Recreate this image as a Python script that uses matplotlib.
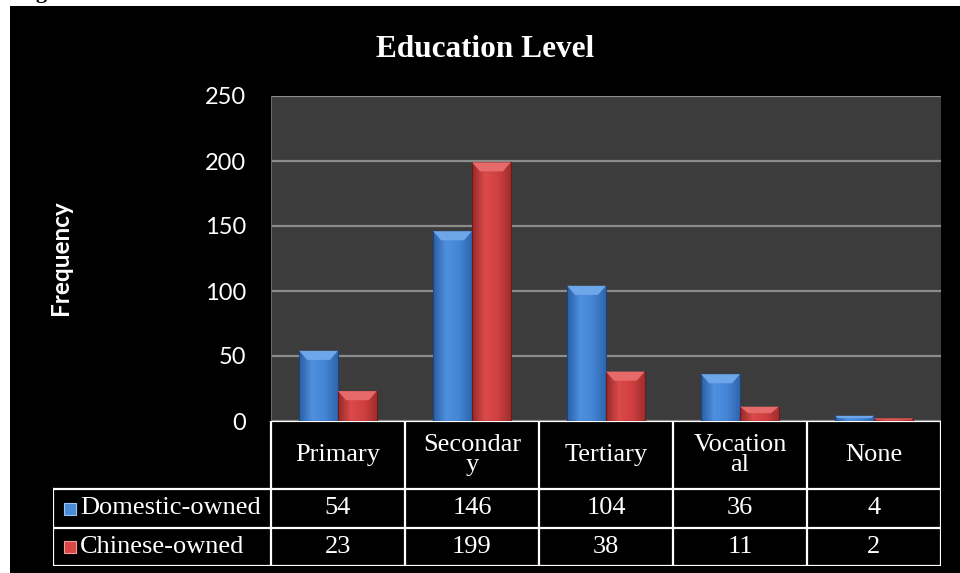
import numpy as np
import matplotlib.pyplot as plt
from matplotlib.patches import Rectangle, Polygon
from matplotlib.colors import LinearSegmentedColormap

# данные
categories = ['Primary', 'Secondary', 'Tertiary', 'Vocational', 'None']
header_labels = ['Primary', 'Secondar\ny', 'Tertiary', 'Vocation\nal', 'None']
domestic = [54, 146, 104, 36, 4]
chinese = [23, 199, 38, 11, 2]
series_names = ['Domestic-owned', 'Chinese-owned']
yticks = [0, 50, 100, 150, 200, 250]

W, H = 960, 573
fig = plt.figure(figsize=(W / 100, H / 100), dpi=100, facecolor='white')

# черная подложка диаграммы
fig.patches.append(Rectangle((10 / W, 0), 1, 1 - 6 / H, transform=fig.transFigure,
                             facecolor='black', edgecolor='none', zorder=-10))
# обрезанная подпись над диаграммой
fig.text(17 / W, 1 + 2 / H, 'Figure', fontsize=16, fontweight='bold',
         family='Liberation Serif', color='black', va='baseline')


def px(x0, y0, x1, y1):
    return [x0 / W, 1 - y1 / H, (x1 - x0) / W, (y1 - y0) / H]


ax = fig.add_axes(px(271, 96, 941, 421))
ax.set_facecolor('#3c3c3c')
ax.set_xlim(-0.5, len(categories) - 0.5)
ax.set_ylim(0, 250)
ax.set_yticks(yticks)
ax.set_yticklabels([str(t) for t in yticks], family='Lato', fontsize=17, color='white')
ax.tick_params(axis='y', length=0, pad=18)
ax.set_xticks([])
ax.grid(axis='y', color='#8c8c8c', linewidth=1.6, zorder=1)
ax.set_axisbelow(True)
for s in ['top', 'right', 'bottom']:
    ax.spines[s].set_visible(False)
ax.spines['left'].set_color('#6a6a6a')

blue = LinearSegmentedColormap.from_list('b', ['#2a5ea6', '#4f90de', '#4585d6', '#2f66ae'])
red = LinearSegmentedColormap.from_list('r', ['#962a2a', '#dc4a4a', '#d04040', '#a02e2e'])

x = np.arange(len(categories))
w = 0.29
grad = np.linspace(0, 1, 64).reshape(1, -1)


def draw_bars(xs, vals, cmap, top, edge):
    bars = ax.bar(xs, vals, w, color='none', edgecolor=edge, linewidth=0.8, zorder=3)
    for b, v in zip(bars, vals):
        x0, x1 = b.get_x(), b.get_x() + b.get_width()
        im = ax.imshow(grad, extent=[x0, x1, 0, v], aspect='auto', cmap=cmap, zorder=2)
        im.set_clip_path(b)
        bev = min(7, v * 0.45)
        ins = min(0.06, bev * 0.012)
        ax.add_patch(Polygon([(x0, v), (x1, v), (x1 - ins, v - bev), (x0 + ins, v - bev)],
                             closed=True, facecolor=top, edgecolor='none', zorder=3))


draw_bars(x - w / 2, domestic, blue, '#6ea6ea', '#1c4478')
draw_bars(x + w / 2, chinese, red, '#e66a6a', '#6e1a1a')
ax.set_xlim(-0.5, len(categories) - 0.5)
ax.set_ylim(0, 250)

fig.text(485 / W, 1 - 57 / H, 'Education Level', ha='center', va='baseline',
         family='Liberation Serif', fontweight='bold', fontsize=22.5, color='white')
fig.text(61 / W, 1 - 258 / H, 'Frequency', ha='center', va='center', rotation=90,
         family='Lato', fontweight='bold', fontsize=17.5, color='white')

# таблица данных под осью
tab = fig.add_axes(px(53, 421, 941, 566))
lab_w = (271 - 53) / 134
tab.set_xlim(-0.5 - lab_w, len(categories) - 0.5)
tab.set_ylim(145, 0)
tab.axis('off')
rows = [0, 68, 107, 145]
lc, lw = 'white', 1.6
tab.plot([-0.5, len(categories) - 0.5], [0, 0], color=lc, lw=lw)
for r in rows[1:]:
    tab.plot([-0.5 - lab_w, len(categories) - 0.5], [r, r], color=lc, lw=lw)
for c in range(len(categories) + 1):
    tab.plot([c - 0.5, c - 0.5], [0, 145], color=lc, lw=lw)
tab.plot([-0.5 - lab_w, -0.5 - lab_w], [68, 145], color=lc, lw=lw)

tfont = dict(family='Liberation Serif', fontsize=19, color='white', ha='center', va='center')
for i, lab in enumerate(header_labels):
    tab.text(i, 34, lab, linespacing=0.9, **tfont)
for i in range(len(categories)):
    tab.text(i, 87.5, str(domestic[i]), **tfont)
    tab.text(i, 126, str(chinese[i]), **tfont)

for name, yc, mc, me in [(series_names[0], 87.5, '#4a8ad8', '#9cc4f0'),
                         (series_names[1], 126, '#d84646', '#f09a9a')]:
    tab.plot(-0.5 - lab_w + 17 / 134, yc, marker='s', markersize=9, color=mc,
             markeredgecolor=me, markeredgewidth=0.8)
    tab.text(-0.5 - lab_w + 27 / 134, yc, name, family='Liberation Serif', fontsize=19,
             color='white', ha='left', va='center')

fig.savefig('out.png', dpi=100)
